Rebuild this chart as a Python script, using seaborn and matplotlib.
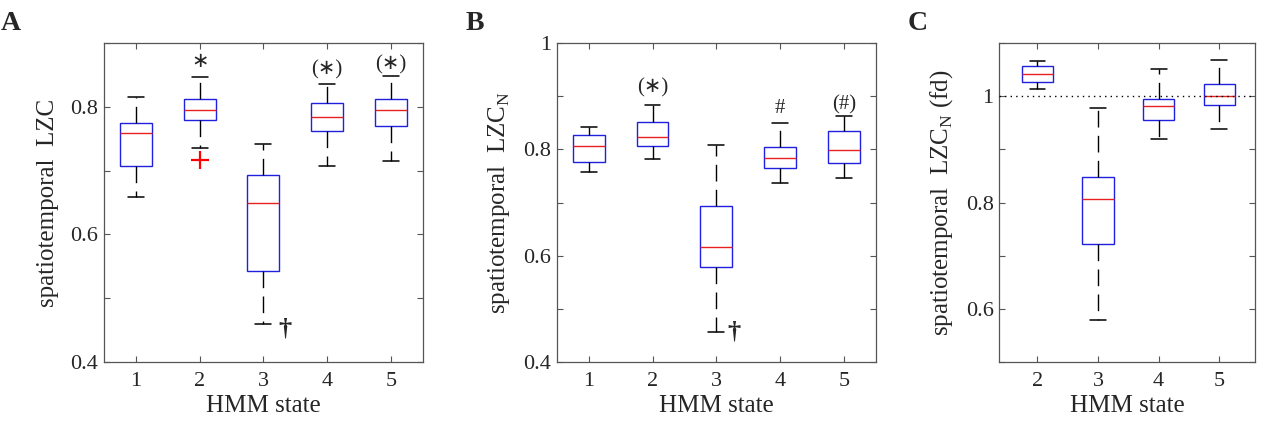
import numpy as np
import pandas as pd
import seaborn as sns
import matplotlib
matplotlib.use("Agg")
import matplotlib.pyplot as plt
from matplotlib.ticker import MultipleLocator, FuncFormatter

# five-number summaries (lower whisker, q1, median, q3, upper whisker)
states_A = [1, 2, 3, 4, 5]
A_lo = [0.658, 0.736, 0.460, 0.707, 0.715]
A_q1 = [0.707, 0.779, 0.543, 0.762, 0.770]
A_med = [0.759, 0.795, 0.649, 0.784, 0.795]
A_q3 = [0.775, 0.813, 0.693, 0.806, 0.813]
A_hi = [0.815, 0.847, 0.742, 0.836, 0.849]
A_outlier_state = [2]
A_outlier_val = [0.716]

states_B = [1, 2, 3, 4, 5]
B_lo = [0.758, 0.782, 0.456, 0.737, 0.747]
B_q1 = [0.777, 0.806, 0.578, 0.765, 0.775]
B_med = [0.807, 0.824, 0.617, 0.784, 0.799]
B_q3 = [0.827, 0.852, 0.694, 0.804, 0.835]
B_hi = [0.842, 0.884, 0.809, 0.849, 0.862]

states_C = [2, 3, 4, 5]
C_lo = [1.014, 0.580, 0.920, 0.939]
C_q1 = [1.026, 0.722, 0.956, 0.983]
C_med = [1.041, 0.806, 0.982, 1.000]
C_q3 = [1.056, 0.848, 0.995, 1.023]
C_hi = [1.066, 0.978, 1.052, 1.068]

# significance marks: (state, y, text)
marks_A = [(2, 0.870, "\u2217"), (4, 0.858, "(\u2217)"), (5, 0.866, "(\u2217)")]
marks_B = [(2, 0.916, "(\u2217)"), (4, 0.877, "#"), (5, 0.884, "(#)")]
dagger_A = (3.33, 0.452)
dagger_B = (3.28, 0.456)

sns.set_theme(style="ticks")
plt.rcParams["font.family"] = ["Liberation Serif", "DejaVu Sans"]
plt.rcParams["mathtext.fontset"] = "custom"
plt.rcParams["mathtext.rm"] = "Liberation Serif"


def long_form(states, lo, q1, med, q3, hi):
    rows = []
    for s, a, b, c, d, e in zip(states, lo, q1, med, q3, hi):
        for v in (a, b, c, d, e):
            rows.append({"state": str(s), "val": v})
    return pd.DataFrame(rows)


def draw(ax, df, width):
    sns.boxplot(data=df, x="state", y="val", ax=ax, whis=(0, 100), width=width,
                fliersize=0, linewidth=1.0,
                boxprops=dict(facecolor="white", edgecolor="#1f1fe0", linewidth=1.0),
                medianprops=dict(color="#e82020", linewidth=1.0),
                whiskerprops=dict(color="black", linestyle=(0, (12, 6)), linewidth=1.0),
                capprops=dict(color="black", linewidth=1.1))


def style(ax, ylim, xlim):
    ax.set_ylim(*ylim)
    ax.set_xlim(*xlim)
    ax.yaxis.set_major_locator(MultipleLocator(0.2))
    ax.yaxis.set_minor_locator(MultipleLocator(0.1))
    ax.yaxis.set_major_formatter(FuncFormatter(lambda v, p: "{:g}".format(round(v, 2))))
    ax.tick_params(axis="both", which="both", direction="in", top=True, right=True,
                   length=4, width=0.8, color="#555555", labelsize=16)
    ax.tick_params(axis="x", pad=7)
    ax.tick_params(axis="y", pad=4)
    for sp in ax.spines.values():
        sp.set_visible(True)
        sp.set_color("#555555")
        sp.set_linewidth(0.9)
    ax.set_xlabel("HMM state", fontsize=18, labelpad=3)


fig = plt.figure(figsize=(12.63, 4.24), dpi=100)
axA = fig.add_axes([0.0823, 0.146, 0.2525, 0.7524])
axB = fig.add_axes([0.4408, 0.146, 0.2528, 0.7524])
axC = fig.add_axes([0.7912, 0.146, 0.2025, 0.7524])

# panel A
draw(axA, long_form(states_A, A_lo, A_q1, A_med, A_q3, A_hi), 0.5)
cats_A = [str(s) for s in states_A]
axA.plot([cats_A.index(str(s)) for s in A_outlier_state], A_outlier_val, "+",
         color="red", markersize=13, markeredgewidth=1.6)
style(axA, (0.4, 0.9), (-0.5, 4.5))
axA.set_ylabel("spatiotemporal  LZC", fontsize=18, labelpad=8)
for s, y, t in marks_A:
    axA.text(cats_A.index(str(s)), y, t, ha="center", va="center", fontsize=15)
axA.text(dagger_A[0] - 1, dagger_A[1], "\u2020", ha="center", va="center",
         fontsize=19, fontweight="bold")

# panel B
draw(axB, long_form(states_B, B_lo, B_q1, B_med, B_q3, B_hi), 0.5)
cats_B = [str(s) for s in states_B]
style(axB, (0.4, 1.0), (-0.5, 4.5))
axB.set_ylabel(r"spatiotemporal  LZC$_\mathregular{N}$", fontsize=18, labelpad=8)
for s, y, t in marks_B:
    axB.text(cats_B.index(str(s)), y, t, ha="center", va="center", fontsize=15)
axB.text(dagger_B[0] - 1, dagger_B[1], "\u2020", ha="center", va="center",
         fontsize=19, fontweight="bold")

# panel C
draw(axC, long_form(states_C, C_lo, C_q1, C_med, C_q3, C_hi), 0.52)
style(axC, (0.5, 1.1), (-0.63, 3.59))
axC.axhline(1.0, color="black", linestyle=(0, (1, 3)), linewidth=1.0, zorder=3)
axC.set_ylabel(r"spatiotemporal  LZC$_\mathregular{N}$ (fd)", fontsize=18, labelpad=8)

for lab, x in (("A", 11), ("B", 475), ("C", 918)):
    fig.text(x / 1263, 1 - 23 / 424, lab, ha="center", va="center",
             fontsize=20, fontweight="bold")

fig.savefig("out.png", dpi=100, facecolor="white")
